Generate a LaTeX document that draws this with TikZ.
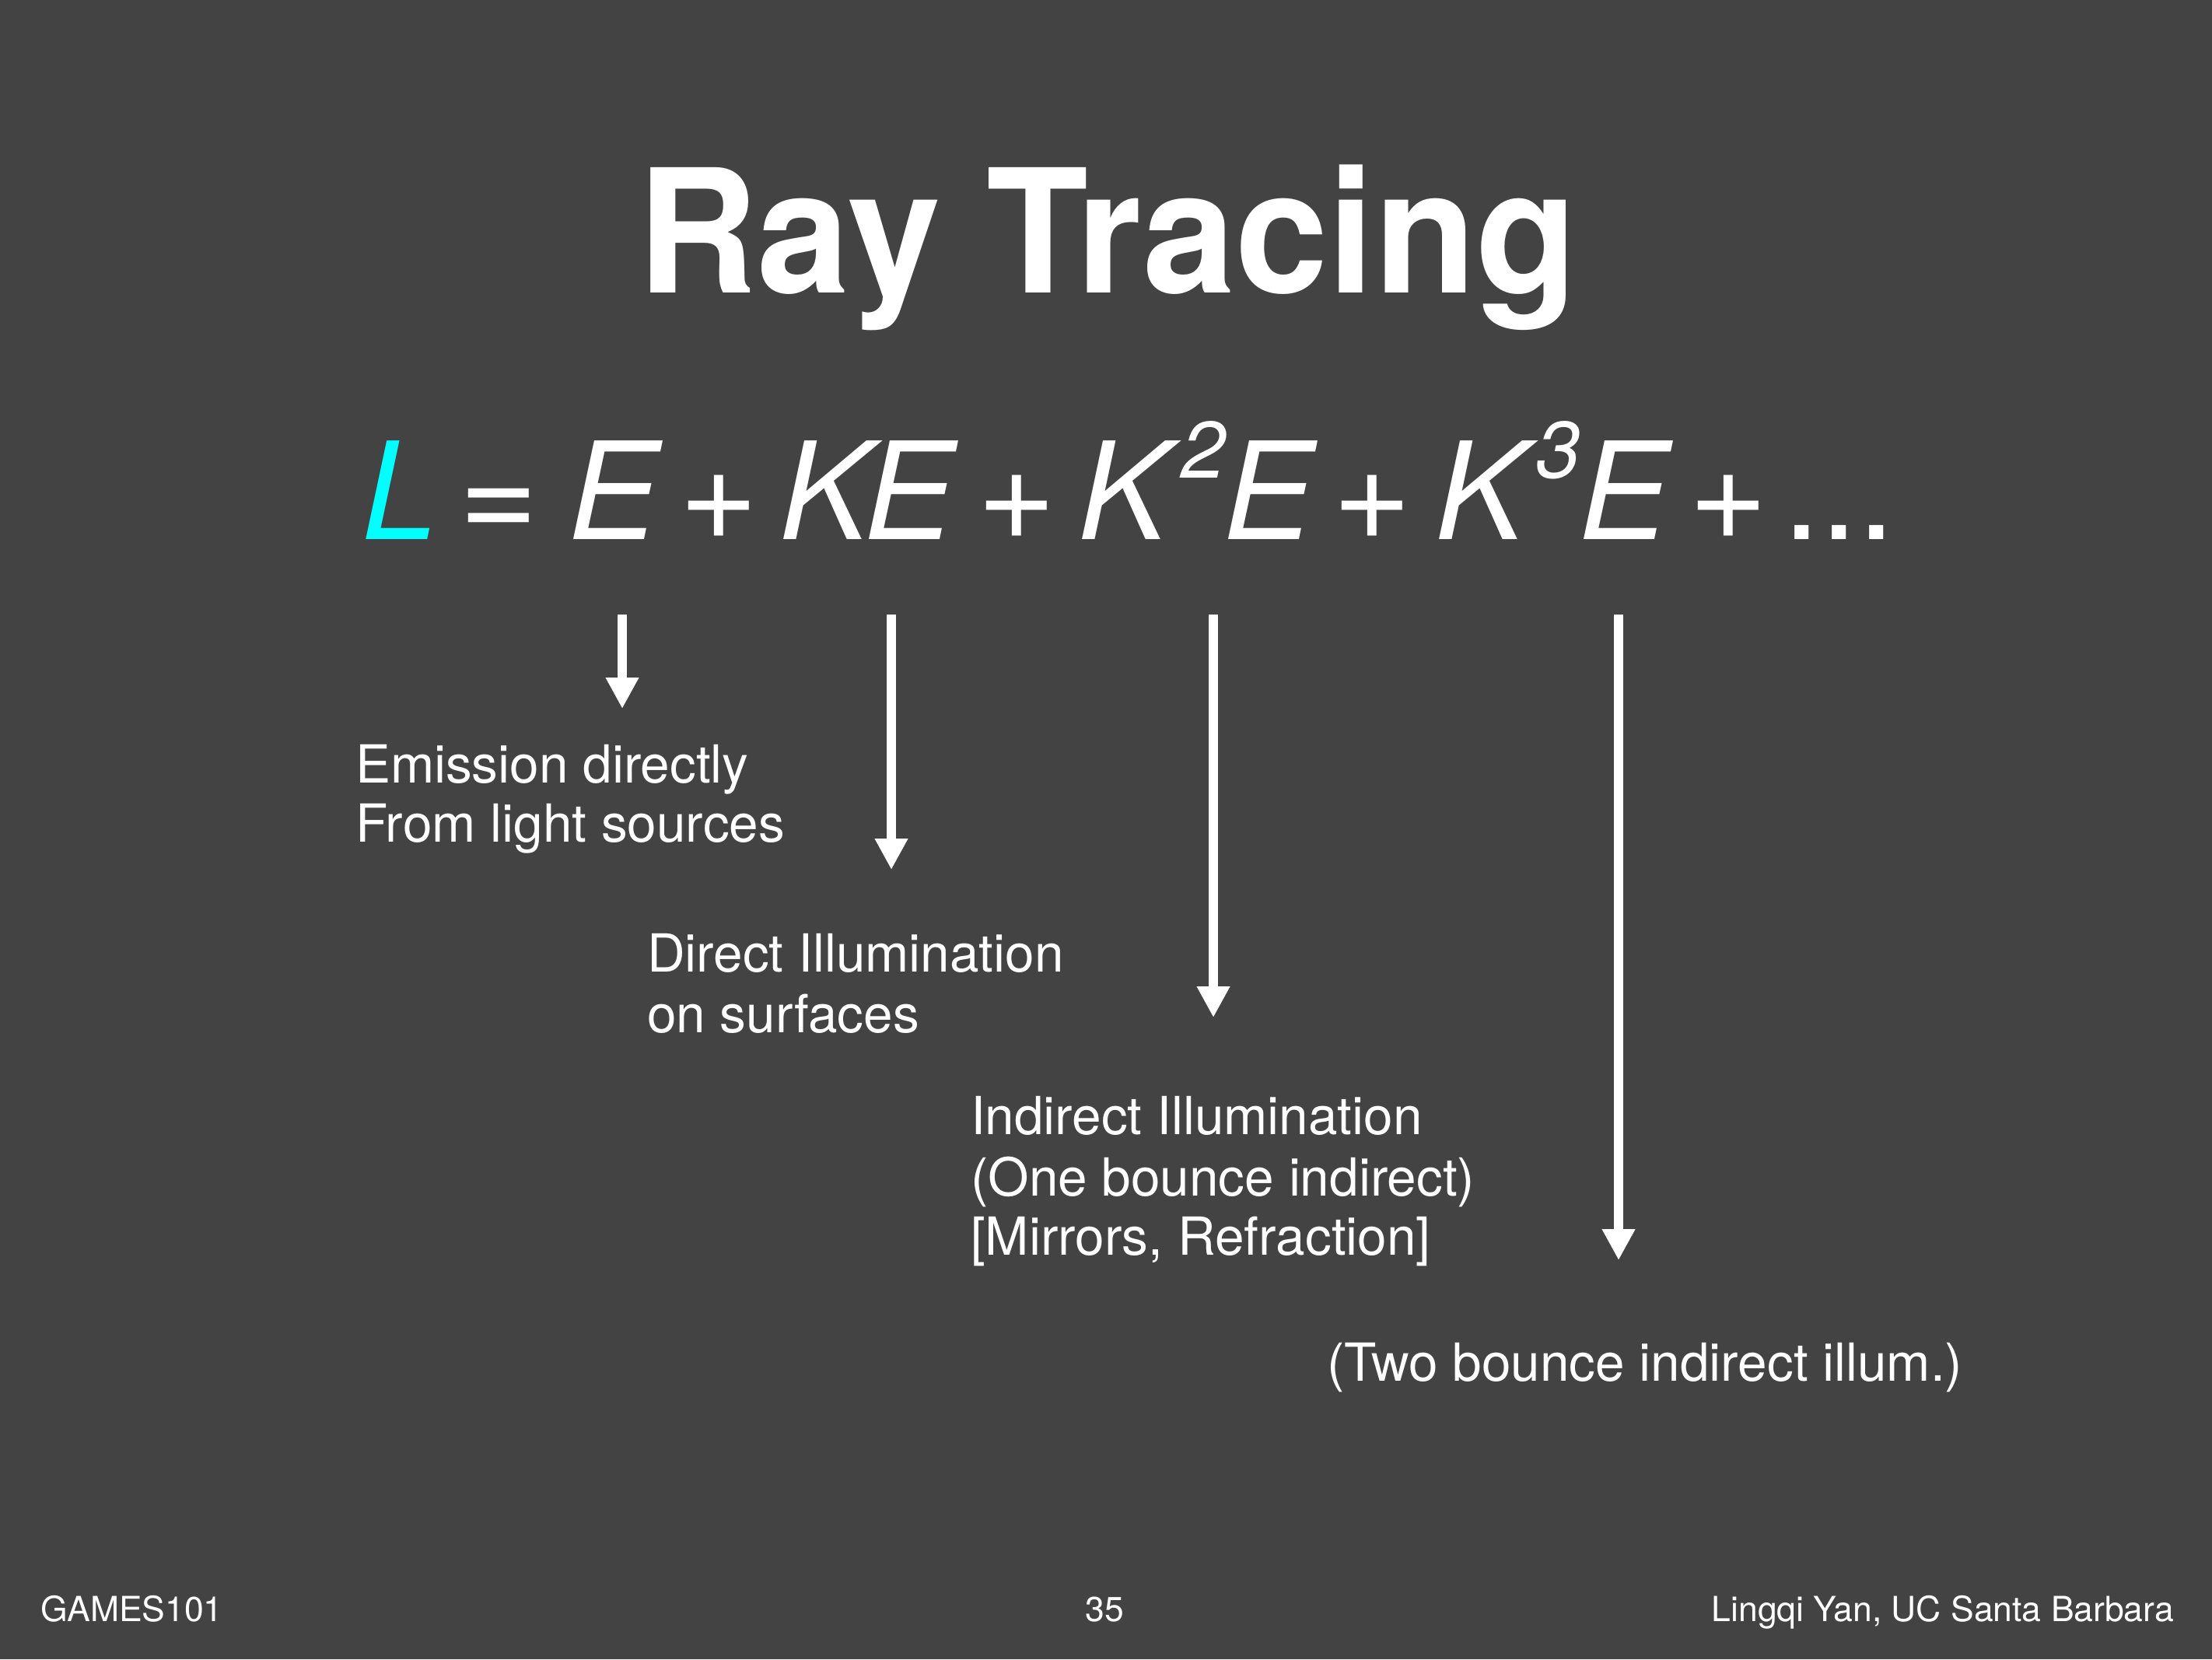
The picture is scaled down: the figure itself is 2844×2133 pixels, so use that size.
\documentclass[tikz,border=0pt]{standalone}
\usepackage{fontspec}
\setmainfont{TeX Gyre Heros}
\usetikzlibrary{arrows.meta}
\definecolor{bg}{HTML}{434343}
\definecolor{cyanL}{HTML}{00FFFF}
\begin{document}
\begin{tikzpicture}[x=0.1pt,y=-0.1pt,
  lbl/.style={text=white, inner sep=0pt, anchor=base west, font=\fontsize{6.75}{8}\selectfont},
  foot/.style={text=white, inner sep=0pt, font=\fontsize{4.45}{5}\selectfont},
  eqv/.style={text=white, inner sep=0pt, anchor=base west, font=\fontsize{17.4}{20}\selectfont\itshape},
  eqop/.style={text=white, inner sep=0pt, anchor=base, font=\fontsize{17.4}{20}\selectfont},
  eqsup/.style={text=white, inner sep=0pt, anchor=base west, font=\fontsize{10.3}{12}\selectfont\itshape},
  arr/.style={draw=white, line width=1.2pt, -{Triangle[width=4pt,length=4pt]}}]
\fill[bg] (0,0) rectangle (2844,2133);
\useasboundingbox (0,0) rectangle (2844,2133);
% title
\node[text=white, inner sep=0pt, anchor=base, font=\fontsize{22.1}{26}\selectfont\bfseries] (title) at (1424,376) {\scalebox{0.97}[1]{Ray Tracing}};
% equation
\node[eqv, text=cyanL] (L) at (463,693) {L};
\node[eqop] (eq) at (641,693) {=};
\node[eqv] (E0) at (728,693) {E};
\node[eqop] (p1) at (924,693) {+};
\node[eqv] (K1) at (1000,693) {K};
\node[eqv] (E1) at (1108,693) {E};
\node[eqop] (p2) at (1307,693) {+};
\node[eqv] (K2) at (1384,693) {K};
\node[eqsup] (s2) at (1516,614) {2};
\node[eqv] (E2) at (1570,693) {E};
\node[eqop] (p3) at (1764,693) {+};
\node[eqv] (K3) at (1843,693) {K};
\node[eqsup] (s3) at (1972,614) {3};
\node[eqv] (E3) at (2027,693) {E};
\node[eqop] (p4) at (2222,693) {+};
\node[eqop, anchor=base west] (dots) at (2290,693) {...};
% arrows
\coordinate (a1s) at (800,790);  \coordinate (a1e) at (800,911);
\coordinate (a2s) at (1146,790); \coordinate (a2e) at (1146,1118);
\coordinate (a3s) at (1560,790); \coordinate (a3e) at (1560,1308);
\coordinate (a4s) at (2081,790); \coordinate (a4e) at (2081,1620);
\draw[arr] (a1s) -- (a1e);
\draw[arr] (a2s) -- (a2e);
\draw[arr] (a3s) -- (a3e);
\draw[arr] (a4s) -- (a4e);
% labels
\node[lbl] (t1a) at (455,1006) {Emission directly};
\node[lbl] (t1b) at (455,1082) {From light sources};
\node[lbl] (t2a) at (830,1249) {Direct Illumination};
\node[lbl] (t2b) at (830,1327) {on surfaces};
\node[lbl] (t3a) at (1246,1458) {Indirect Illumination};
\node[lbl] (t3b) at (1246,1537) {(One bounce indirect)};
\node[lbl] (t3c) at (1246,1613) {[Mirrors, Refraction]};
\node[lbl] (t4a) at (1704,1775) {(Two bounce indirect illum.)};
% footer
\node[foot, anchor=base west] (f1) at (50,2084) {GAMES101};
\node[foot, anchor=base] (f2) at (1420,2084) {35};
\node[foot, anchor=base east] (f3) at (2797,2084) {Lingqi Yan, UC Santa Barbara};
\end{tikzpicture}
\end{document}
